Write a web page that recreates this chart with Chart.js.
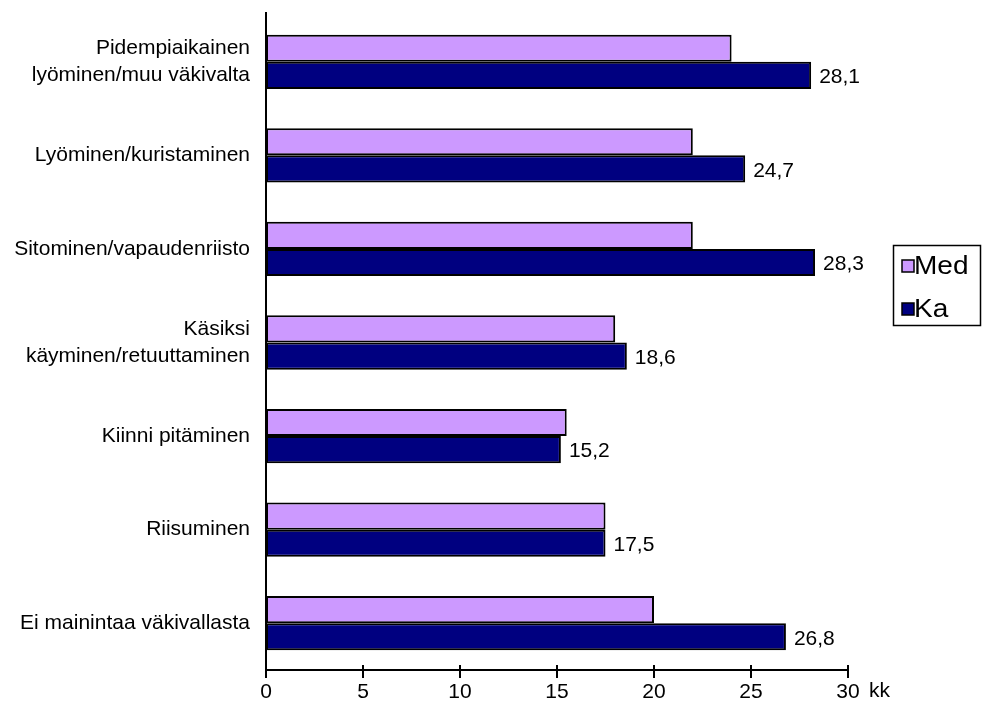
<!DOCTYPE html>
<html>
<head>
<meta charset="utf-8">
<script src="https://cdn.jsdelivr.net/npm/chart.js@4/dist/chart.umd.min.js"></script>
<style>
  html, body { margin: 0; padding: 0; background: #fff; }
  #wrap { width: 982px; height: 713px; }
</style>
</head>
<body>
<div id="wrap"><canvas id="chart" width="982" height="713"></canvas></div>
<script>
/* ─── Data ─────────────────────────────────────────── */
const categories = [
    ['Pidempiaikainen', 'lyöminen/muu väkivalta'],
    'Lyöminen/kuristaminen',
    'Sitominen/vapaudenriisto',
    ['Käsiksi', 'käyminen/retuuttaminen'],
    'Kiinni pitäminen',
    'Riisuminen',
    'Ei mainintaa väkivallasta'
];
const medValues = [24, 22, 22, 18, 15.5, 17.5, 20];
const kaValues = [28.1, 24.7, 28.3, 18.6, 15.2, 17.5, 26.8];
const xTicks = [0, 5, 10, 15, 20, 25, 30];
const unitLabel = 'kk';

const FONT = '"Liberation Sans", Arial, sans-serif';

/* ─── Plugins ──────────────────────────────────────── */
// value labels at the end of the Ka bars
const valueLabels = {
    id: 'valueLabels',
    afterDatasetsDraw(chart) {
        const ctx = chart.ctx;
        const meta = chart.getDatasetMeta(1);
        ctx.save();
        ctx.font = '21px ' + FONT;
        ctx.fillStyle = '#000';
        ctx.textAlign = 'left';
        ctx.textBaseline = 'middle';
        meta.data.forEach((bar, i) => {
            const txt = String(kaValues[i]).replace('.', ',');
            ctx.fillText(txt, bar.x + 8, bar.y + 2);
        });
        ctx.restore();
    }
};

// tick marks crossing the x axis, unit label and boxed legend
const decorations = {
    id: 'decorations',
    afterDraw(chart) {
        const ctx = chart.ctx;
        const xs = chart.scales.x;
        const area = chart.chartArea;
        ctx.save();
        ctx.strokeStyle = '#000';
        ctx.lineWidth = 2;
        xTicks.forEach(v => {
            const px = Math.round(xs.getPixelForValue(v));
            ctx.beginPath();
            ctx.moveTo(px, area.bottom - 5);
            ctx.lineTo(px, area.bottom + 8);
            ctx.stroke();
        });
        // y axis starts a little above the plot area
        ctx.beginPath();
        ctx.moveTo(area.left, area.top - 3);
        ctx.lineTo(area.left, area.top + 1);
        ctx.stroke();

        ctx.font = '21px ' + FONT;
        ctx.fillStyle = '#000';
        ctx.textAlign = 'left';
        ctx.textBaseline = 'middle';
        ctx.fillText(unitLabel, 869, 691);

        // legend
        const lx = 893, ly = 245, lw = 87, lh = 80;
        ctx.lineWidth = 1.5;
        ctx.strokeRect(lx + 0.5, ly + 0.5, lw, lh);
        ctx.font = '25px ' + FONT;
        chart.data.datasets.forEach((ds, i) => {
            const cy = ly + 21 + i * 43;
            ctx.fillStyle = ds.backgroundColor;
            ctx.fillRect(lx + 9, cy - 6, 12, 12);
            ctx.lineWidth = 1.5;
            ctx.strokeRect(lx + 9, cy - 6, 12, 12);
            ctx.save();
            ctx.translate(lx + 21, cy + 1);
            ctx.scale(1.12, 1);
            ctx.fillStyle = '#000';
            ctx.fillText(ds.label, 0, 0);
            ctx.restore();
        });
        ctx.restore();
    }
};

/* ─── Chart ────────────────────────────────────────── */
new Chart(document.getElementById('chart'), {
    type: 'bar',
    data: {
        labels: categories,
        datasets: [
            {
                label: 'Med',
                data: medValues,
                backgroundColor: '#CC99FF',
                borderColor: '#000',
                borderWidth: 2,
                borderSkipped: false,
            },
            {
                label: 'Ka',
                data: kaValues,
                backgroundColor: '#000080',
                borderColor: '#000',
                borderWidth: 2,
                borderSkipped: false,
            }
        ]
    },
    options: {
        indexAxis: 'y',
        responsive: false,
        animation: false,
        devicePixelRatio: 1,
        layout: { padding: { top: 15, right: 134, left: 0, bottom: 0 } },
        datasets: { bar: { categoryPercentage: 0.58, barPercentage: 1 } },
        plugins: {
            legend: { display: false },
            tooltip: { enabled: false }
        },
        scales: {
            x: {
                min: 0,
                max: 30,
                afterBuildTicks(scale) {
                    scale.ticks = xTicks.map(v => ({ value: v }));
                },
                afterFit(scale) {
                    scale.height = 43;
                    scale.paddingLeft = 0;
                    scale.paddingRight = 0;
                },
                grid: { display: false, drawTicks: false },
                border: { display: true, color: '#000', width: 2 },
                ticks: {
                    color: '#000',
                    padding: 10,
                    font: { family: FONT, size: 21 }
                }
            },
            y: {
                afterFit(scale) {
                    scale.width = 266;
                    scale.paddingTop = 0;
                    scale.paddingBottom = 0;
                },
                grid: { display: false, drawTicks: false },
                border: { display: true, color: '#000', width: 2 },
                ticks: {
                    color: '#000',
                    padding: 16,
                    font: { family: FONT, size: 21, lineHeight: 1.3 }
                }
            }
        }
    },
    plugins: [valueLabels, decorations]
});
</script>
</body>
</html>
